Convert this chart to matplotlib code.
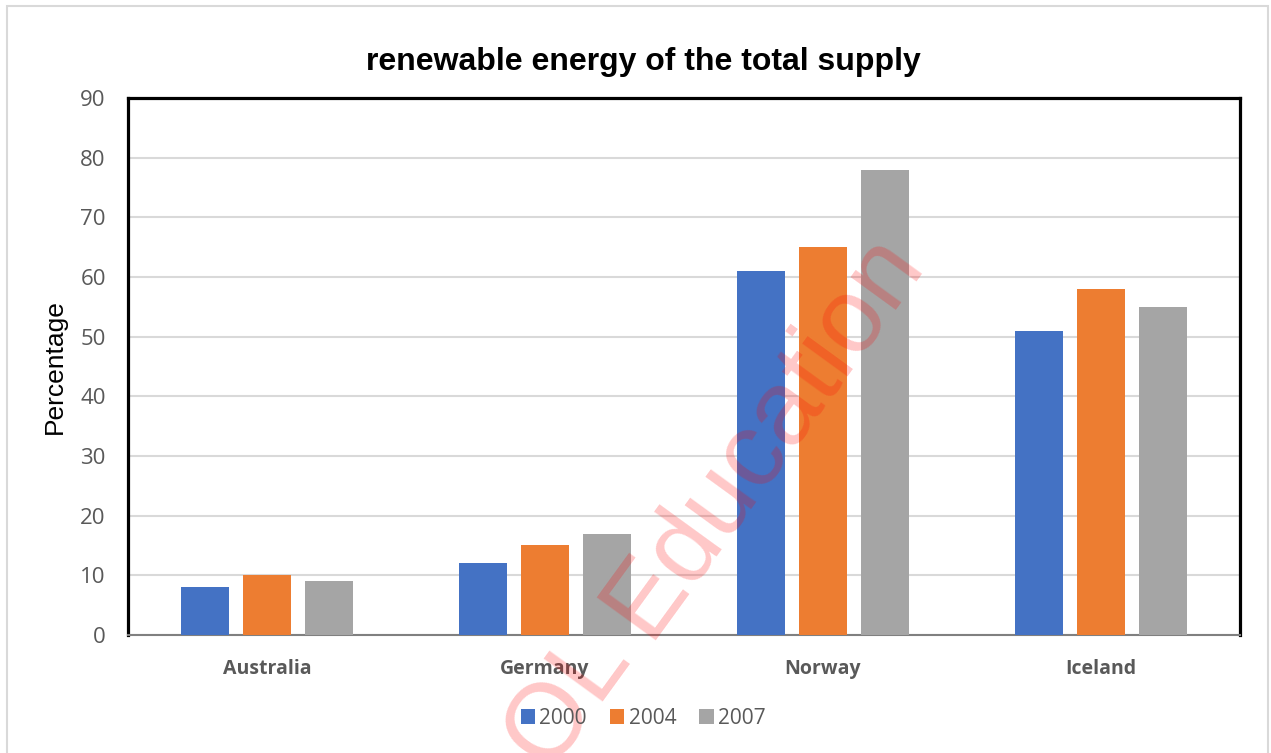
import numpy as np
import matplotlib.pyplot as plt
from matplotlib.patches import Rectangle

countries = ['Australia', 'Germany', 'Norway', 'Iceland']
years = ['2000', '2004', '2007']
vals_2000 = [8, 12, 61, 51]
vals_2004 = [10, 15, 65, 58]
vals_2007 = [9, 17, 78, 55]
colors = ['#4472C4', '#ED7D31', '#A5A5A5']

fig = plt.figure(figsize=(12.71, 7.53), dpi=100)
ax = fig.add_axes([0.1007, 0.1567, 0.8749, 0.7132])

# outer light border
fig.patches.append(Rectangle((0.0055, -0.01), 0.9925, 1.002, transform=fig.transFigure,
                             fill=False, edgecolor='#d9d9d9', linewidth=1.5))

x = np.arange(len(countries))
w = 0.173
pitch = 0.223
for i, (vals, yr) in enumerate(zip([vals_2000, vals_2004, vals_2007], years)):
    ax.bar(x + (i - 1) * pitch, vals, w, color=colors[i], label=yr, zorder=3)

ax.set_xlim(-0.5, 3.5)
ax.set_ylim(0, 90)
ax.set_yticks(range(0, 91, 10))
ax.yaxis.grid(True, color='#d9d9d9', linewidth=1.5, zorder=0)
ax.tick_params(length=0)
ax.tick_params(axis='y', labelsize=16, labelcolor='#595959', pad=16)
ax.tick_params(axis='x', pad=17)
for t in ax.get_yticklabels():
    t.set_family('Open Sans')
ax.set_xticks(x)
ax.set_xticklabels(countries, fontsize=14, fontweight='bold', color='#595959', family='Open Sans')

for s in ['left', 'top', 'right']:
    ax.spines[s].set_linewidth(2.3)
    ax.spines[s].set_color('black')
ax.spines['bottom'].set_color('#808080')
ax.spines['bottom'].set_linewidth(1.5)

ax.set_ylabel('Percentage', fontsize=19, family='Liberation Sans', labelpad=10)
fig.text(0.506, 0.917, 'renewable energy of the total supply', ha='center', va='center',
         fontsize=23, fontweight='bold', family='Liberation Sans')

leg = fig.legend(loc='center', bbox_to_anchor=(0.506, 0.046), ncol=3, frameon=False,
                 handlelength=0.7, handleheight=0.7, handletextpad=0.2, columnspacing=1.1,
                 prop={'family': 'Open Sans', 'size': 15})
for t in leg.get_texts():
    t.set_color('#595959')

# watermark
fig.text(0.5095, 0.150, 'Education', rotation=54, rotation_mode='anchor', ha='left', va='baseline',
         fontsize=76, color='red', alpha=0.22, family='Liberation Sans')
fig.text(0.5095, 0.150, 'OL ', rotation=54, rotation_mode='anchor', ha='right', va='baseline',
         fontsize=76, color='red', alpha=0.22, family='Liberation Sans')

fig.savefig('out.png', dpi=100)
